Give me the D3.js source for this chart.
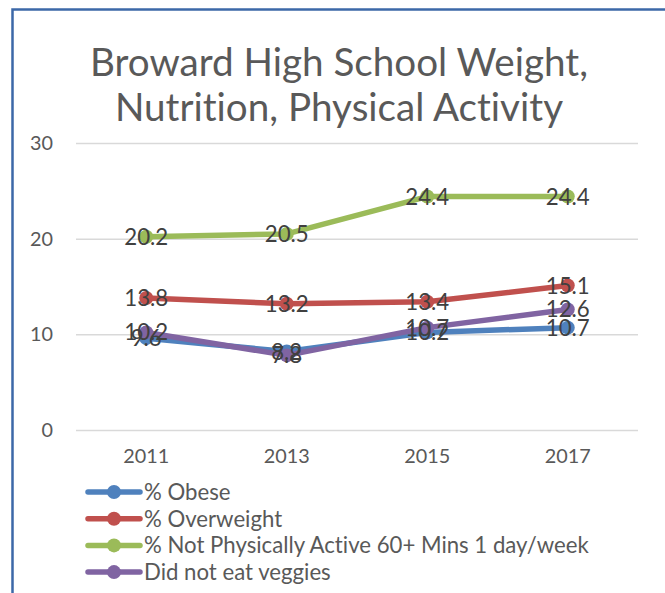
<!DOCTYPE html>
<html lang="en">
<head>
    <meta charset="UTF-8">
    <title>Broward High School Weight, Nutrition, Physical Activity</title>
    <script src="https://cdnjs.cloudflare.com/ajax/libs/d3/7.8.5/d3.min.js"></script>
    <style>
        body { margin: 0; background: #ffffff; font-family: Lato, "Open Sans", sans-serif; }
        svg { display: block; font-variant-ligatures: none; }
    </style>
</head>
<body>
    <div id="chart"></div>
    <script>
        const years = ["2011", "2013", "2015", "2017"];
        const obese = [9.6, 8.2, 10.2, 10.7];
        const overweight = [13.8, 13.2, 13.4, 15.1];
        const notActive = [20.2, 20.5, 24.4, 24.4];
        const veggies = [10.2, 7.8, 10.7, 12.6];
        const yTicks = [0, 10, 20, 30];
        const titleLines = ["Broward High School Weight,", "Nutrition, Physical Activity"];

        const series = [
            { name: "% Obese", values: obese, color: "#4f81bd" },
            { name: "% Overweight", values: overweight, color: "#c0504d" },
            { name: "% Not Physically Active 60+ Mins 1 day/week", values: notActive, color: "#9bbb59" },
            { name: "Did not eat veggies", values: veggies, color: "#8064a2" }
        ];

        const W = 665, H = 593;
        const plot = { left: 76, right: 638, top: 143, bottom: 430 };
        const FONT = "Lato, 'Open Sans', sans-serif";

        const svg = d3.select("#chart").append("svg")
            .attr("width", W)
            .attr("height", H)
            .style("font-family", FONT);

        // font size that makes a sample string a given width (Calibri stand-in)
        function fitSize(sample, targetWidth) {
            const t = svg.append("text").style("font-size", "20px").text(sample);
            const w = t.node().getComputedTextLength();
            t.remove();
            return 20 * targetWidth / w;
        }
        const titleSize = fitSize(titleLines[0], 498);
        const legendSize = fitSize(series[2].name, 445);
        const tickSize = fitSize("2011", 46);
        const labelSize = fitSize("24.4", 44);

        // frame (clipped by window at right/bottom)
        svg.append("rect")
            .attr("x", 12.5).attr("y", 9.5)
            .attr("width", W + 20).attr("height", H + 20)
            .attr("fill", "none")
            .attr("stroke", "#3c68a8")
            .attr("stroke-width", 2.5);

        // title
        const title = svg.append("text")
            .attr("text-anchor", "middle")
            .attr("fill", "#595959")
            .style("font-size", titleSize + "px");
        titleLines.forEach((t, i) => {
            title.append("tspan")
                .attr("x", 339)
                .attr("y", 76 + i * 45)
                .text(t);
        });

        const x = d3.scaleBand().domain(years).range([plot.left, plot.right]);
        const y = d3.scaleLinear().domain([0, 30]).range([plot.bottom, plot.top]);
        const cx = d => x(d) + x.bandwidth() / 2;

        // gridlines + y labels
        const yAxis = svg.append("g")
            .attr("transform", `translate(${plot.left},0)`)
            .call(d3.axisLeft(y).tickValues(yTicks).tickSize(-(plot.right - plot.left)).tickPadding(23));
        yAxis.select(".domain").remove();
        yAxis.selectAll(".tick line").attr("stroke", "#d9d9d9").attr("stroke-width", 1.5);
        yAxis.selectAll(".tick text")
            .attr("fill", "#595959")
            .style("font-family", FONT)
            .style("font-size", tickSize + "px");

        // x labels
        const xAxis = svg.append("g")
            .attr("transform", `translate(0,${plot.bottom})`)
            .call(d3.axisBottom(x).tickSize(0).tickPadding(19));
        xAxis.select(".domain").remove();
        xAxis.selectAll(".tick text")
            .attr("fill", "#595959")
            .style("font-family", FONT)
            .style("font-size", tickSize + "px");

        const line = d3.line()
            .x((d, i) => cx(years[i]))
            .y(d => y(d));

        series.forEach(s => {
            const g = svg.append("g");
            g.append("path")
                .datum(s.values)
                .attr("fill", "none")
                .attr("stroke", s.color)
                .attr("stroke-width", 5.5)
                .attr("stroke-linejoin", "round")
                .attr("d", line);
            g.selectAll("circle")
                .data(s.values)
                .enter().append("circle")
                .attr("cx", (d, i) => cx(years[i]))
                .attr("cy", d => y(d))
                .attr("r", 7)
                .attr("fill", s.color);
        });

        // data labels on top
        series.forEach(s => {
            svg.append("g").selectAll("text")
                .data(s.values)
                .enter().append("text")
                .attr("x", (d, i) => cx(years[i]))
                .attr("y", d => y(d))
                .attr("dy", "0.36em")
                .attr("text-anchor", "middle")
                .attr("fill", "#404040")
                .style("font-size", labelSize + "px")
                .text(d => d.toFixed(1));
        });

        // legend
        const legend = svg.append("g")
            .selectAll("g")
            .data(series)
            .enter().append("g")
            .attr("transform", (d, i) => `translate(88,${492 + i * 26.7})`);
        legend.append("line")
            .attr("x1", 0).attr("x2", 52)
            .attr("stroke", d => d.color)
            .attr("stroke-width", 5.5)
            .attr("stroke-linecap", "round");
        legend.append("circle")
            .attr("cx", 26).attr("r", 7)
            .attr("fill", d => d.color);
        legend.append("text")
            .attr("x", 56)
            .attr("dy", "0.36em")
            .attr("fill", "#595959")
            .style("font-size", legendSize + "px")
            .text(d => d.name);
    </script>
</body>
</html>
